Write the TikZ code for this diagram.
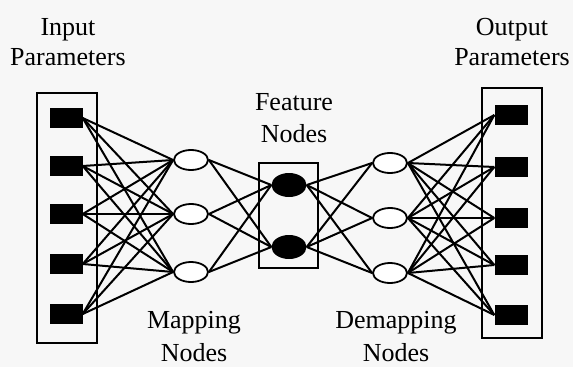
\documentclass[tikz,border=0pt]{standalone}
\usepackage{fontspec}
\setmainfont{Liberation Serif}
\usetikzlibrary{shapes,arrows,positioning}

\tikzset{
  param/.style={fill=black, minimum width=33pt, minimum height=20pt, inner sep=0pt},
  hidden/.style={ellipse, draw, line width=1.8pt, fill=white, minimum width=34pt, minimum height=20pt, inner sep=0pt},
  feature/.style={ellipse, fill=black, minimum width=35pt, minimum height=24pt, inner sep=0pt},
  frame/.style={draw, line width=1.4pt},
  link/.style={line width=2pt},
  heading/.style={font=\fontsize{26}{30}\selectfont, align=center, anchor=base, inner sep=0pt}
}

\begin{document}
\begin{tikzpicture}[x=1pt,y=-1pt]

% Page and background
\fill[black!3] (0,0) rectangle (573,367);
\useasboundingbox (0,0) rectangle (573,367);

% Frames round the parameter and feature layers
\draw[frame] (37,93) rectangle (97,343);
\draw[frame] (259,163) rectangle (318,268);
\draw[frame] (482,88) rectangle (542,338);

% Input and output parameters
\foreach \i/\y in {1/118,2/166,3/214,4/264,5/314}
  \node[param] (in\i) at (66,\y) {};
\foreach \i/\y in {1/115,2/167,3/218,4/265,5/315}
  \node[param] (out\i) at (511,\y) {};

% Mapping, feature and demapping nodes
\foreach \j/\y in {1/160,2/214,3/272}
  \node[hidden] (map\j) at (191,\y) {};
\foreach \k/\y in {1/185,2/247}
  \node[feature] (feat\k) at (289,\y) {};
\foreach \j/\y in {1/163,2/218,3/273}
  \node[hidden] (demap\j) at (390,\y) {};

% Fully connected layers
\foreach \i in {1,...,5}
  \foreach \j in {1,2,3} {
    \draw[link] (in\i.east) -- (map\j.west);
    \draw[link] (demap\j.east) -- (out\i.west);
  }
\foreach \j in {1,2,3}
  \foreach \k in {1,2} {
    \draw[link] (map\j.east) -- (feat\k.west);
    \draw[link] (feat\k.east) -- (demap\j.west);
  }

% Layer names (anchored at the baseline of the last line)
\node[heading] (inname) at (68,65) {Input\\Parameters};
\node[heading] (outname) at (512,65) {Output\\Parameters};
\node[heading] (featname) at (294,142) {Feature\\[2pt]Nodes};
\node[heading] (mapname) at (194,361) {Mapping\\[3pt]Nodes};
\node[heading] (demapname) at (396,361) {Demapping\\[3pt]Nodes};

\end{tikzpicture}
\end{document}
